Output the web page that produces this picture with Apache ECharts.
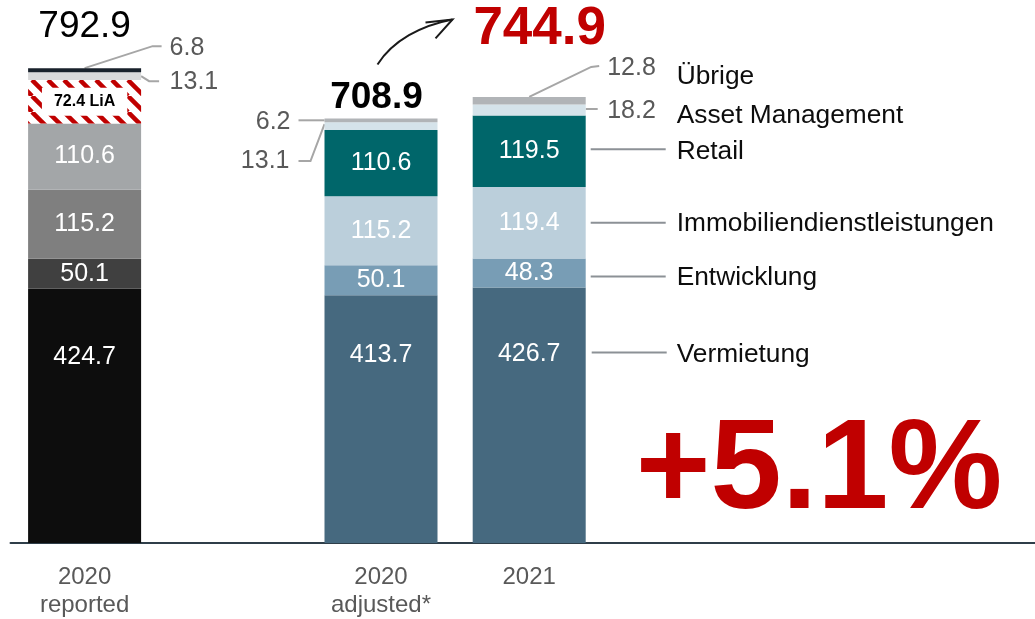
<!DOCTYPE html>
<html><head><meta charset="utf-8">
<script src="https://cdn.jsdelivr.net/npm/echarts@6/dist/echarts.min.js"></script>
<style>html,body{margin:0;padding:0;background:#fff}#c{width:1035px;height:619px}</style>
</head><body><div id="c"></div>
<script>
// ---------- data ----------
const categories = ['2020\nreported', '', '2020\nadjusted*', '2021', '', '', ''];
const segmentNames = ['Vermietung', 'Entwicklung', 'Immobiliendienstleistungen', 'Retail', 'LiA', 'Asset Management', 'Übrige'];
const vermietung = [424.7, null, 413.7, 426.7];
const entwicklung = [50.1, null, 50.1, 48.3];
const immobiliendienstleistungen = [115.2, null, 115.2, 119.4];
const retail = [110.6, null, 110.6, 119.5];
const lia = [72.4, null, null, null];
const assetManagement = [13.1, null, 13.1, 18.2];
const uebrige = [6.8, null, 6.2, 12.8];

// ---------- style ----------
const FONT = 'Liberation Sans, Arial, sans-serif';
const barWidth = 113;
const adjustedColors = ['#46697f', '#789db5', '#bbcfdb', '#00666a', '#ffffff', '#d5e3ea', '#b1b4b7'];
const pc = document.createElement('canvas'); pc.width = 16; pc.height = 16;
const cx = pc.getContext('2d');
cx.fillStyle = '#fff'; cx.fillRect(0, 0, 16, 16);
cx.strokeStyle = '#c00000'; cx.lineWidth = 4.5;
for (const k of [-16, 0, 16]) { cx.beginPath(); cx.moveTo(k, 0); cx.lineTo(k + 16, 16); cx.stroke(); }
const liaPattern = { image: pc, repeat: 'repeat' };
const reportedColors = ['#0d0d0d', '#404040', '#7f7f7f', '#a3a6a8', liaPattern, '#d8d9da', '#18212b'];

const seriesData = [vermietung, entwicklung, immobiliendienstleistungen, retail, lia, assetManagement, uebrige];
const vermLabelPos = { 0: '27%', 2: '24%', 3: '26%' };

const chart = echarts.init(document.getElementById('c'), null, { renderer: 'canvas' });

const series = seriesData.map((arr, s) => {
  const data = arr.map((v, c) => {
    if (v == null) return null;
    const item = { value: v, itemStyle: { color: c === 0 ? reportedColors[s] : adjustedColors[s] } };
    if (s === 0) item.label = { position: ['50%', vermLabelPos[c]] };
    return item;
  });
  let label = { show: false };
  if (s <= 3) {
    label = { show: true, position: 'inside', color: '#fff', fontSize: 25, fontFamily: FONT,
      align: 'center', verticalAlign: 'middle', formatter: p => p.value.toFixed(1) };
  } else if (s === 4) {
    label = { show: true, position: 'inside', color: '#000', fontSize: 16, fontWeight: 'bold', fontFamily: FONT,
      backgroundColor: '#fff', padding: [6, 12], formatter: p => p.value.toFixed(1) + ' ' + segmentNames[4] };
  }
  return { type: 'bar', name: segmentNames[s], stack: 'total', barWidth, data, label, silent: true, animation: false };
});

chart.setOption({
  animation: false,
  grid: { left: 10.5, top: 4, width: 1037.4, height: 539, outerBoundsMode: 'none', containLabel: false },
  xAxis: { type: 'category', data: categories,
    axisLine: { lineStyle: { color: '#2f3e49', width: 2 } }, axisTick: { show: false },
    axisLabel: { color: '#595959', fontSize: 24, lineHeight: 28, fontFamily: FONT, margin: 20, interval: 0 } },
  yAxis: { type: 'value', min: 0, max: 900, show: false, splitLine: { show: false } },
  series
});

// ---------- annotations ----------
const P = (c, v) => chart.convertToPixel({ xAxisIndex: 0, yAxisIndex: 0 }, [c, v]);
const cum = (c, s) => { let t = 0; for (let i = 0; i <= s; i++) t += (seriesData[i][c] || 0); return t; };
const total = c => cum(c, 6);
const mid = (c, s) => P(c, cum(c, s) - seriesData[s][c] / 2)[1];
const hw = barWidth / 2;
const g = [];
const txt = (x, y, text, o) => g.push({ type: 'text', x, y, silent: true, style: Object.assign({
  text, fill: '#595959', fontSize: 25, fontFamily: FONT, align: 'left', verticalAlign: 'middle' }, o || {}) });
const line = (pts, color, w) => g.push({ type: 'polyline', silent: true, shape: { points: pts },
  style: { stroke: color || '#a6a6a6', lineWidth: w || 2, fill: null } });
const LEAD = '#a6a6a6', NAMELINE = '#8c9196';

// Bar 1: 2020 reported
{
  const c = 0; const [x, top] = P(c, total(c));
  txt(x, top - 41, total(c).toFixed(1), { fill: '#000', fontSize: 37, align: 'center' });
  line([[x, top], [x + 68, top - 22], [x + 77, top - 22]], LEAD);
  txt(x + 85, top - 20, uebrige[c].toFixed(1));
  const m = mid(c, 5);
  line([[x + hw, m], [x + hw + 8, m + 5], [x + hw + 18, m + 5]], LEAD);
  txt(x + 85, m + 6, assetManagement[c].toFixed(1));
}
// Bar 2: 2020 adjusted
{
  const c = 2; const [x, top] = P(c, total(c));
  txt(x - 4.5, top - 21, total(c).toFixed(1), { fill: '#000', fontSize: 37, fontWeight: 'bold', align: 'center' });
  const mU = mid(c, 6);
  line([[x - hw, mU], [x - hw - 26, mU]], LEAD);
  txt(x - hw - 34, mU + 2, uebrige[c].toFixed(1), { align: 'right' });
  const mA = mid(c, 5);
  line([[x - hw, mA - 2], [x - hw - 14, mA + 35], [x - hw - 26, mA + 35]], LEAD);
  txt(x - hw - 35, mA + 35, assetManagement[c].toFixed(1), { align: 'right' });
  // arrow
  g.push({ type: 'bezierCurve', silent: true,
    shape: { x1: x - 3.5, y1: top - 54, cpx1: x + 12, cpy1: top - 78, cpx2: x + 40, cpy2: top - 93, x2: x + 71.5, y2: top - 99 },
    style: { stroke: '#1a1a1a', lineWidth: 2, fill: null } });
  line([[x + 44.5, top - 96], [x + 71.5, top - 99], [x + 54.5, top - 80]], '#1a1a1a', 2);
}
// Bar 3: 2021
{
  const c = 3; const [x, top] = P(c, total(c));
  txt(x + 10.5, top - 67, total(c).toFixed(1), { fill: '#c00000', fontSize: 53, fontWeight: 'bold', align: 'center' });
  line([[x, top], [x + 62, top - 30], [x + 70, top - 31]], LEAD);
  txt(x + 78, top - 29, uebrige[c].toFixed(1));
  const mA = mid(c, 5);
  line([[x + hw, mA - 1], [x + hw + 12, mA - 1]], LEAD);
  txt(x + 78, mA + 1, assetManagement[c].toFixed(1));
  const nx = x + hw + 91;
  const nameStyle = { fill: '#0d0d0d', fontSize: 26.3 };
  txt(nx, top - 20, segmentNames[6], nameStyle);
  txt(nx, mA + 6, segmentNames[5], nameStyle);
  const mR = mid(c, 3);
  line([[x + hw + 5, mR - 2], [x + hw + 80, mR - 2]], NAMELINE);
  txt(nx, mR + 1, segmentNames[3], nameStyle);
  const mI = mid(c, 2);
  line([[x + hw + 5, mI], [x + hw + 80, mI]], NAMELINE);
  txt(nx, mI + 1, segmentNames[2], nameStyle);
  const mE = mid(c, 1);
  line([[x + hw + 5, mE + 3.5], [x + hw + 80, mE + 3.5]], NAMELINE);
  txt(nx, mE + 4.5, segmentNames[1], nameStyle);
  const vTop = P(c, vermietung[c])[1];
  line([[x + hw + 6, vTop + 65], [x + hw + 81, vTop + 65]], NAMELINE);
  txt(nx, vTop + 67, segmentNames[0], nameStyle);
}
// change
{
  const pct = (total(3) / total(2) - 1) * 100;
  const [x, y] = P(5, 0);
  txt(x - 6.5, y - 70, (pct >= 0 ? '+' : '') + pct.toFixed(1) + '%',
    { fill: '#c00000', fontSize: 128, fontWeight: 'bold', align: 'center' });
}
chart.setOption({ graphic: g });
</script></body></html>
